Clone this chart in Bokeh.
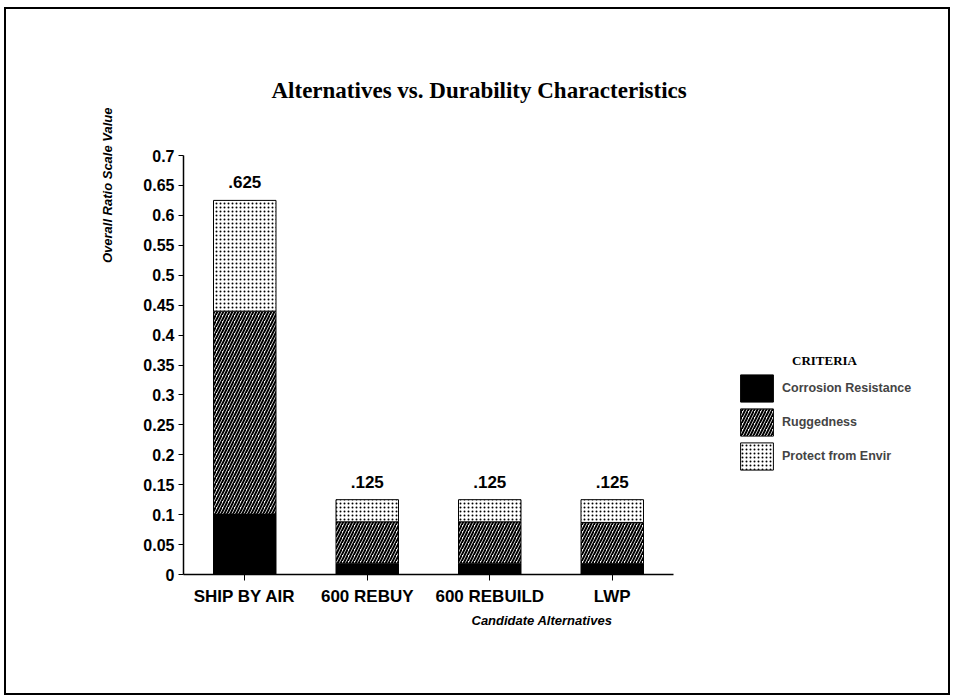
from bokeh.plotting import figure
from bokeh.models import (ColumnDataSource, Range1d, FixedTicker,
                          NumeralTickFormatter, Label, Legend, LegendItem, Title)
from bokeh.core.properties import value
from bokeh.embed import file_html
from bokeh.resources import INLINE

# ---- data ----
categories = ["SHIP BY AIR", "600 REBUY", "600 REBUILD", "LWP"]
criteria = ["Corrosion Resistance", "Ruggedness", "Protect from Envir"]
corrosion = [0.101, 0.019, 0.019, 0.018]
ruggedness = [0.339, 0.069, 0.069, 0.069]
protect = [0.185, 0.037, 0.037, 0.038]
total_labels = [".625", ".125", ".125", ".125"]
y_ticks = [0, 0.05, 0.1, 0.15, 0.2, 0.25, 0.3, 0.35, 0.4, 0.45, 0.5, 0.55, 0.6, 0.65, 0.7]

# category slots: one unit per category, bar centred in its slot
xpos = [i + 0.5 for i in range(len(categories))]
totals = [a + b + c for a, b, c in zip(corrosion, ruggedness, protect)]
src = ColumnDataSource(dict(x=xpos, cat=categories, corrosion=corrosion,
                            ruggedness=ruggedness, protect=protect,
                            total=totals, total_text=total_labels))

SANS = "Liberation Sans"
SERIF = "Liberation Serif"

# layout (pixels)
W, H = 946, 688
LEFT, RIGHT, TOP, BOTTOM = 177, 5, 146, 123
FRAME_W = W - LEFT - RIGHT
AXIS_W = 490  # pixel length of the category axis

p = figure(x_range=Range1d(0, len(categories) * FRAME_W / AXIS_W), y_range=Range1d(0, 0.7),
           width=W, height=H, output_backend="svg", toolbar_location=None,
           min_border_left=LEFT, min_border_right=RIGHT, min_border_top=TOP,
           min_border_bottom=BOTTOM)
p.outline_line_color = None
p.xgrid.grid_line_color = None
p.ygrid.grid_line_color = None
p.background_fill_color = "white"
p.border_fill_color = "white"
p.styles = {"border": "2px solid black", "margin-left": "4px", "margin-top": "7px"}

# title
p.title.text = "Alternatives vs. Durability Characteristics"
p.title.align = "left"
p.title.offset = 88
p.title.standoff = 105
p.title.text_font = SERIF
p.title.text_font_style = "bold"
p.title.text_font_size = "23px"
p.title.text_color = "black"

renderers = p.vbar_stack(["corrosion", "ruggedness", "protect"], x="x", width=0.51,
                         source=src,
                         fill_color=["black", "white", "white"],
                         line_color="black", line_width=1,
                         hatch_pattern=[None, "/", "."],
                         hatch_color="black",
                         hatch_scale=[4, 6, 4],
                         hatch_weight=[1, 2.0, 1.6])

p.text(x="x", y="total", text="total_text", source=src, text_align="center",
       text_baseline="bottom", y_offset=-12, text_font=value(SANS),
       text_font_style="bold", text_font_size="17px", text_color="black")

# x axis: category names at slot centres, axis line only under the categories
p.xaxis.ticker = FixedTicker(ticks=xpos, minor_ticks=[])
p.xaxis.major_label_overrides = {x: c for x, c in zip(xpos, categories)}
p.xaxis.bounds = (0, len(categories))
p.xaxis.axis_line_color = "black"
p.xaxis.axis_line_width = 1.5
p.xaxis.major_tick_in = 0
p.xaxis.major_tick_out = 6
p.xaxis.minor_tick_in = 0
p.xaxis.minor_tick_out = 0
p.xaxis.major_tick_line_color = "black"
p.xaxis.major_label_text_font = SANS
p.xaxis.major_label_text_font_style = "bold"
p.xaxis.major_label_text_font_size = "17px"
p.xaxis.major_label_text_color = "black"
p.xaxis.major_label_standoff = 6

p.yaxis.ticker = FixedTicker(ticks=y_ticks, minor_ticks=[])
p.yaxis.formatter = NumeralTickFormatter(format="0.[00]")
p.yaxis.axis_line_color = "black"
p.yaxis.axis_line_width = 1.5
p.yaxis.major_tick_in = 0
p.yaxis.major_tick_out = 5
p.yaxis.minor_tick_out = 0
p.yaxis.minor_tick_in = 0
p.yaxis.major_label_text_font = SANS
p.yaxis.major_label_text_font_style = "bold"
p.yaxis.major_label_text_font_size = "16px"
p.yaxis.major_label_text_color = "black"
p.yaxis.major_label_standoff = 4

# axis titles
p.add_layout(Title(text="Overall Ratio Scale Value", align="right", offset=-48,
                   standoff=52, text_font=SANS, text_font_style="bold italic",
                   text_font_size="13px", text_color="black"), "left")
p.add_layout(Title(text="Candidate Alternatives", align="left", offset=288,
                   standoff=4, text_font=SANS, text_font_style="bold italic",
                   text_font_size="13px", text_color="black"), "below")

# legend (inside the wide frame, to the right of the bars)
legend = Legend(items=[LegendItem(label=criteria[i], renderers=[renderers[i]]) for i in range(3)],
                location=(553, 101), orientation="vertical",
                glyph_width=41, glyph_height=34, spacing=0, padding=0, margin=0,
                border_line_color=None, background_fill_alpha=0,
                label_standoff=5, label_text_font=SANS, label_text_font_style="bold",
                label_text_font_size="12.5px", label_height=20)
p.add_layout(legend, "center")
p.add_layout(Label(x=641, y=214, x_units="screen", y_units="screen",
                   text="CRITERIA", text_align="center", text_baseline="middle",
                   text_font=SERIF, text_font_style="bold", text_font_size="13px",
                   text_color="black"))

open("out.html", "w").write(file_html(p, INLINE))
